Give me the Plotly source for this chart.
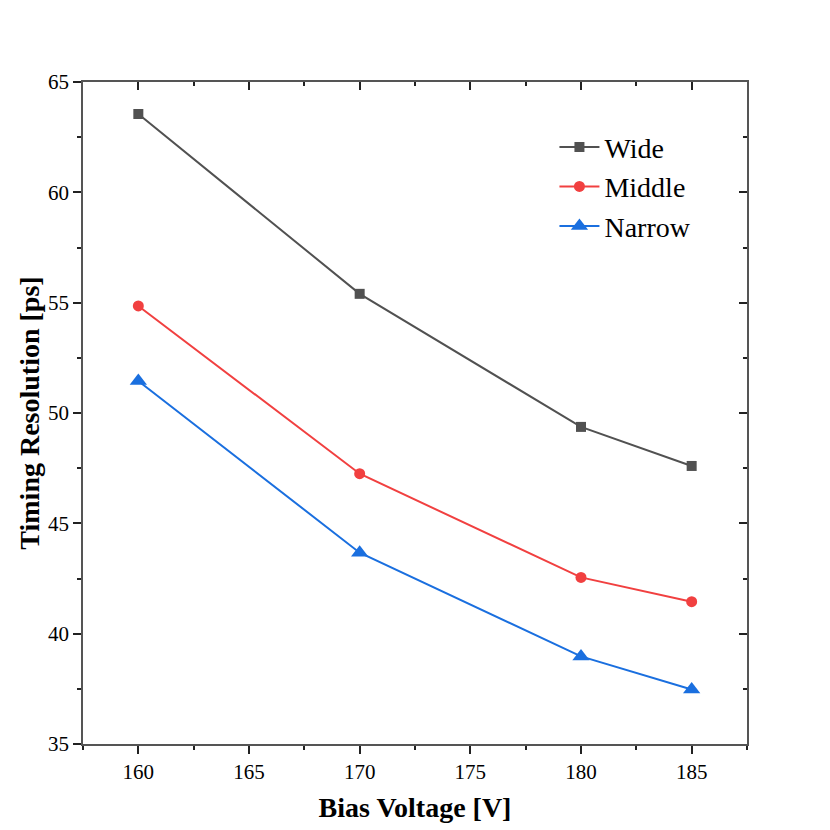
import plotly.graph_objs as go

bias_voltage = [160, 170, 180, 185]
wide = [63.55, 55.40, 49.37, 47.60]
middle = [54.85, 47.25, 42.55, 41.45]
narrow = [51.45, 43.67, 38.97, 37.47]

series = [
    ("Wide", wide, "#515151", "square", 10),
    ("Middle", middle, "#F14040", "circle", 11),
    ("Narrow", narrow, "#1A6FDF", "triangle-up", 15),
]

fig = go.Figure()
for name, vals, col, sym, sz in series:
    fig.add_trace(go.Scatter(
        x=bias_voltage, y=vals, name=name, mode="lines+markers",
        line=dict(color=col, width=2),
        marker=dict(symbol=sym, size=sz, color=col),
    ))

axis_common = dict(
    showline=True, linecolor="#555555", linewidth=1.5,
    showgrid=False, zeroline=False,
    tickcolor="#222222", tickwidth=1.5, ticklen=8,
    tickfont=dict(family="Liberation Serif", size=21, color="black"),
)
minor_out = dict(dtick=2.5, ticks="outside", ticklen=4, tickcolor="#222222", tickwidth=1.5)
minor_in = dict(dtick=2.5, ticks="inside", ticklen=4, tickcolor="#222222", tickwidth=1.5)

# page body adds an 8px margin, so the figure is made 8px smaller and shifted
fig.update_layout(
    width=822, height=822,
    margin=dict(l=75, r=83, t=74, b=84),
    paper_bgcolor="white", plot_bgcolor="white",
    font=dict(family="Liberation Serif", color="black"),
    xaxis=dict(
        range=[157.5, 187.5], tick0=160, dtick=5, ticks="outside", minor=minor_out,
        title=dict(text="<b>Bias Voltage [V]</b>", font=dict(size=28), standoff=14),
        **axis_common,
    ),
    yaxis=dict(
        range=[35, 65], tick0=35, dtick=5, ticks="outside", minor=minor_out,
        title=dict(text="<b>Timing Resolution [ps]</b>", font=dict(size=28), standoff=0),
        **axis_common,
    ),
    # top and right frame with inward ticks
    xaxis2=dict(
        overlaying="x", side="top", matches="x", showticklabels=False,
        tick0=160, dtick=5, ticks="inside", minor=minor_in,
        **axis_common,
    ),
    yaxis2=dict(
        overlaying="y", side="right", matches="y", showticklabels=False,
        tick0=35, dtick=5, ticks="inside", minor=minor_in,
        **axis_common,
    ),
    legend=dict(
        x=0.71, y=0.939, xanchor="left", yanchor="top",
        bgcolor="rgba(0,0,0,0)", font=dict(family="Liberation Serif", size=28),
        itemwidth=40, tracegroupgap=0,
    ),
)

# invisible trace so the mirrored axes get drawn
fig.add_trace(go.Scatter(x=[160], y=[50], xaxis="x2", yaxis="y2",
                         mode="markers", marker=dict(opacity=0),
                         showlegend=False, hoverinfo="skip"))

fig.write_html("out.html")
